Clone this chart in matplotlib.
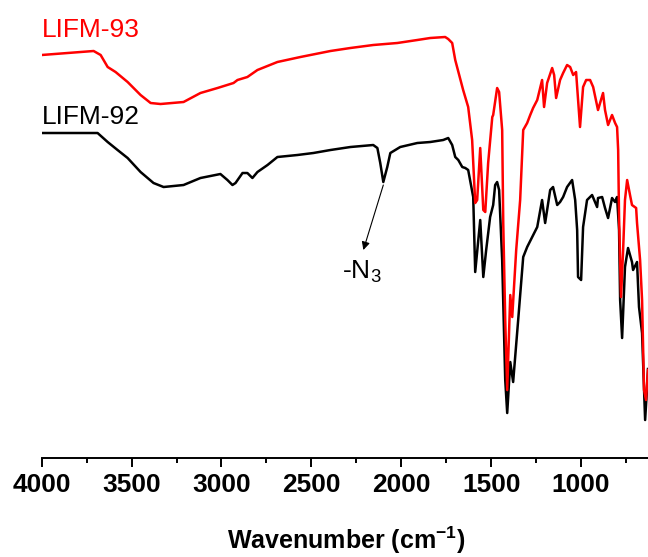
import matplotlib
matplotlib.use("Agg")
import matplotlib.pyplot as plt
from matplotlib.ticker import MultipleLocator

plt.rcParams['font.family'] = 'Liberation Sans'
plt.rcParams['mathtext.fontset'] = 'custom'
plt.rcParams['mathtext.rm'] = 'Liberation Sans'
plt.rcParams['mathtext.bf'] = 'Liberation Sans:bold'

# FT-IR spectra, transmittance in arbitrary units (traces offset vertically)
wn_92 = [4000, 3689, 3633, 3578, 3522, 3450, 3378, 3322, 3211, 3117, 3006, 2967,
         2939, 2922, 2883, 2856, 2828, 2800, 2744, 2689, 2578, 2489, 2394, 2283,
         2156, 2133, 2117, 2100, 2078, 2061, 2006, 1911, 1839, 1767, 1739, 1717,
         1700, 1683, 1661, 1644, 1628, 1600, 1589, 1561, 1544, 1528, 1506, 1489,
         1478, 1467, 1456, 1439, 1422, 1411, 1394, 1378, 1350, 1322, 1300, 1272,
         1244, 1217, 1200, 1172, 1156, 1133, 1117, 1100, 1078, 1050, 1033, 1022,
         1017, 1000, 989, 967, 939, 911, 906, 883, 867, 850, 828, 811, 800, 789,
         783, 772, 756, 739, 717, 711, 689, 678, 661, 644, 633, 628]
t_92 = [326, 326, 317, 309, 301, 287, 276, 272, 274, 281, 285, 279,
        274, 276, 286, 286, 281, 287, 294, 302, 304, 306, 309, 312,
        314, 311, 296, 277, 292, 306, 312, 316, 317, 319, 321, 314,
        302, 299, 292, 291, 289, 262, 187, 239, 182, 209, 242, 254,
        274, 277, 269, 199, 79, 46, 97, 77, 139, 202, 212, 222,
        232, 259, 236, 269, 272, 254, 257, 262, 272, 279, 259, 229,
        182, 179, 232, 259, 264, 252, 261, 262, 251, 241, 261, 257, 262, 229,
        159, 121, 192, 211, 197, 189, 197, 152, 126, 39, 72, 90]

wn_93 = [4000, 3711, 3672, 3633, 3589, 3522, 3450, 3394, 3339, 3211, 3117, 3022,
         2933, 2911, 2856, 2800, 2689, 2561, 2394, 2283, 2156, 2022, 1911, 1839,
         1756, 1739, 1717, 1700, 1656, 1628, 1606, 1589, 1578, 1561, 1544, 1533,
         1517, 1494, 1489, 1467, 1456, 1439, 1433, 1422, 1411, 1394, 1383, 1361,
         1339, 1322, 1300, 1283, 1267, 1244, 1217, 1206, 1189, 1161, 1150, 1139,
         1117, 1100, 1078, 1061, 1044, 1028, 1006, 989, 972, 950, 933, 906, 878,
         867, 850, 828, 811, 800, 794, 789, 778, 767, 756, 744, 728, 717, 694,
         689, 672, 661, 650, 639, 628]
t_93 = [404, 408, 404, 392, 387, 377, 364, 356, 355, 357, 366, 371,
        376, 379, 382, 389, 397, 402, 408, 411, 414, 416, 419, 421,
        422, 420, 416, 399, 369, 352, 319, 256, 259, 311, 249, 247,
        296, 342, 344, 371, 367, 329, 236, 139, 69, 164, 142, 209,
        259, 329, 336, 344, 351, 359, 379, 352, 376, 391, 384, 361,
        379, 386, 394, 392, 384, 387, 332, 372, 379, 379, 372, 349, 366,
        349, 334, 344, 336, 332, 309, 242, 162, 206, 259, 279, 264, 254, 251,
        236, 199, 159, 69, 59, 89]

fig = plt.figure(figsize=(6.48, 5.57), dpi=100)
ax = fig.add_axes([0.0643, 0.1777, 0.9357, 0.8223])

ax.plot(wn_92, t_92, color='black', lw=1.8)
ax.plot(wn_93, t_93, color='#ff0000', lw=1.8)

ax.set_xlim(4000, 628)
ax.set_ylim(1, 459)

for side in ['left', 'right', 'top']:
    ax.spines[side].set_visible(False)
ax.spines['bottom'].set_linewidth(1.4)
ax.set_yticks([])
ax.xaxis.set_major_locator(MultipleLocator(500))
ax.xaxis.set_minor_locator(MultipleLocator(250))
ax.tick_params(axis='x', which='major', direction='out', length=6.5, width=1.4,
               pad=4, labelsize=19)
ax.tick_params(axis='x', which='minor', direction='out', length=3.6, width=1.4)
for lab in ax.get_xticklabels():
    lab.set_fontweight('bold')

ax.text(4000, 422, 'LIFM-93', color='#ff0000', fontsize=19, va='baseline', ha='left')
ax.text(4000, 335, 'LIFM-92', color='black', fontsize=19, va='baseline', ha='left')

# azide band marker
ax.annotate('', xy=(2211, 209), xytext=(2100, 274),
            arrowprops=dict(arrowstyle='-|>', color='black', lw=0.8,
                            mutation_scale=12, shrinkA=0, shrinkB=0))
ax.text(2330, 181, r'-N$_{\mathrm{3}}$', fontsize=19, va='baseline', ha='left')

fig.text(0.535, 0.0144, r'Wavenumber (cm$^{\mathbf{-1}}$)', fontsize=18,
         fontweight='bold', ha='center', va='baseline')

fig.savefig('out.png', dpi=100)
